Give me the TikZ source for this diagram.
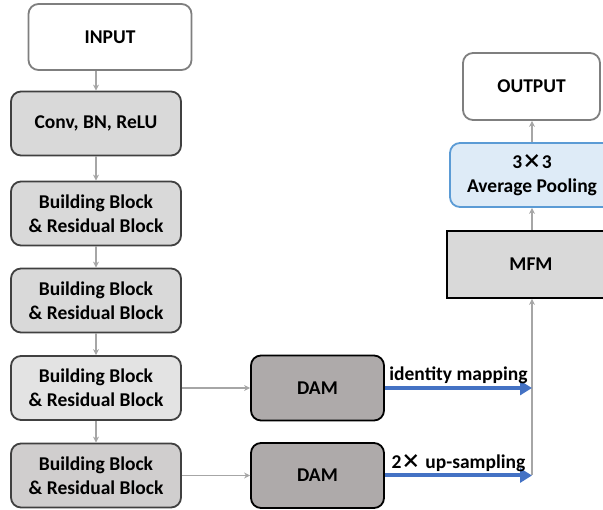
\documentclass[tikz,border=0pt]{standalone}
\usepackage{fontspec}
\setmainfont{Carlito}
\newfontfamily\cjkx{Noto Sans CJK SC}
\newcommand{\bigtimes}{{\cjkx\bfseries ×}}
\usetikzlibrary{arrows.meta}
\definecolor{boxgray}{HTML}{D9D9D9}
\definecolor{lightgray2}{HTML}{E3E3E3}
\definecolor{midgray}{HTML}{D0CECE}
\definecolor{damgray}{HTML}{AEAAAA}
\definecolor{edgedark}{HTML}{404040}
\definecolor{edgegray}{HTML}{7F7F7F}
\definecolor{arrgray}{HTML}{A6A6A6}
\definecolor{poolfill}{HTML}{DEEBF7}
\definecolor{pooledge}{HTML}{5B9BD5}
\definecolor{bluearr}{HTML}{4472C4}
\tikzset{
  base/.style={rounded corners=10pt, line width=1.8pt, align=center, font=\bfseries\fontsize{19.5}{24}\selectfont, inner sep=0pt},
  inbox/.style={base, draw=edgegray, fill=white, minimum width=163pt, minimum height=66pt},
  blockbox/.style={base, draw=edgedark, fill=boxgray, minimum width=170pt, minimum height=64pt},
  dambox/.style={base, draw=black, fill=damgray, minimum width=133pt, minimum height=65pt},
  graylink/.style={draw=arrgray, line width=1.3pt, -{Stealth[length=6pt,width=6pt]}},
  bluelink/.style={draw=bluearr, line width=4pt, -{Triangle[length=12pt,width=14pt]}},
  lbl/.style={font=\bfseries\fontsize{19.5}{24}\selectfont, inner sep=1pt}
}
\begin{document}
\begin{tikzpicture}[x=1pt,y=-1pt]
\useasboundingbox (0,0) rectangle (603,510);
\clip (0,0) rectangle (603,510);
\node[inbox] (in) at (110,37) {INPUT};
\node[blockbox] (conv) at (96,123.5) {Conv, BN, ReLU};
\node[blockbox] (b1) at (96,213.5) {Building Block\\\& Residual Block};
\node[blockbox] (b2) at (96,300.5) {Building Block\\\& Residual Block};
\node[blockbox, fill=lightgray2] (b3) at (96,388) {Building Block\\\& Residual Block};
\node[blockbox, fill=midgray] (b4) at (96,475.5) {Building Block\\\& Residual Block};
\node[dambox] (d1) at (317.5,388) {DAM};
\node[dambox] (d2) at (317.5,475.5) {DAM};
\node[base, rounded corners=0pt, draw=black, fill=boxgray, minimum width=168pt, minimum height=67pt] (mfm) at (531,264.5) {MFM};
\node[base, draw=pooledge, fill=poolfill, minimum width=164pt, minimum height=64pt] (pool) at (532,175) {3\bigtimes3\\Average Pooling};
\node[inbox, minimum width=137pt, minimum height=67pt] (out) at (531.5,86.5) {OUTPUT};
\coordinate (m1) at (532,388);
\coordinate (m2) at (532,475.5);
\draw[graylink] (in.south -| conv.north) -- (conv.north);
\draw[graylink] (conv) -- (b1);
\draw[graylink] (b1) -- (b2);
\draw[graylink] (b2) -- (b3);
\draw[graylink] (b3) -- (b4);
\draw[graylink] (b3) -- (d1);
\draw[graylink] (b4) -- (d2);
\draw[draw=arrgray, line width=1.3pt] (m2) -- (m1);
\draw[graylink] (m1) -- (m1 |- mfm.south);
\draw[graylink] (mfm.north -| m1) -- (pool.south -| m1);
\draw[graylink] (pool.north -| m1) -- (out.south -| m1);
\draw[bluelink] (d1.east) -- (m1) node[lbl, pos=0.5, above=1pt] {identity mapping};
\draw[bluelink] (d2.east) -- (m2) node[lbl, pos=0.5, above=1pt] {2\bigtimes{} up-sampling};
\end{tikzpicture}
\end{document}
